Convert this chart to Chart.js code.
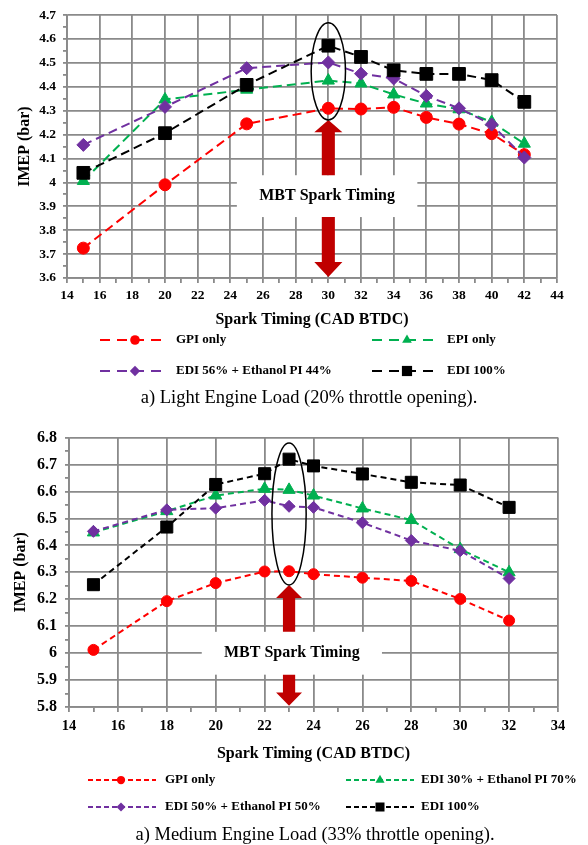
<!DOCTYPE html>
<html>
<head>
<meta charset="utf-8">
<script src="https://cdn.jsdelivr.net/npm/chart.js@4.4.0/dist/chart.umd.min.js"></script>
<style>
  body { margin: 0; background: #fff; }
  .wrap { position: absolute; left: 0; width: 588px; }
</style>
</head>
<body>
<div class="wrap" style="top:0"><canvas id="lightChart" width="588" height="420"></canvas></div>
<div class="wrap" style="top:420px"><canvas id="mediumChart" width="588" height="425"></canvas></div>
<script>
    // Light engine load (20% throttle)
    const timingLight = [15, 20, 25, 30, 32, 34, 36, 38, 40, 42];
    const gpiLight = [3.725, 3.99, 4.245, 4.31, 4.307, 4.314, 4.272, 4.244, 4.204, 4.116];
    const epiLight = [4.006, 4.347, 4.388, 4.426, 4.414, 4.368, 4.33, 4.306, 4.253, 4.162];
    const edi56Light = [4.157, 4.316, 4.478, 4.502, 4.455, 4.435, 4.362, 4.31, 4.242, 4.104];
    const edi100Light = [4.04, 4.206, 4.408, 4.572, 4.525, 4.469, 4.454, 4.454, 4.428, 4.337];
    const labelsLight = ['GPI only', 'EPI only', 'EDI 56% + Ethanol PI 44%', 'EDI 100%'];

    // Medium engine load (33% throttle)
    const timingMedium = [15, 18, 20, 22, 23, 24, 26, 28, 30, 32];
    const gpiMedium = [6.012, 6.193, 6.26, 6.303, 6.304, 6.293, 6.28, 6.268, 6.201, 6.121];
    const edi30Medium = [6.448, 6.527, 6.585, 6.61, 6.606, 6.585, 6.537, 6.494, 6.386, 6.3];
    const edi50Medium = [6.452, 6.532, 6.538, 6.567, 6.545, 6.541, 6.484, 6.418, 6.38, 6.277];
    const edi100Medium = [6.254, 6.468, 6.626, 6.666, 6.72, 6.695, 6.665, 6.634, 6.624, 6.541];
    const labelsMedium = ['GPI only', 'EDI 30% + Ethanol PI 70%', 'EDI 50% + Ethanol PI 50%', 'EDI 100%'];

    const serif = "'Liberation Serif', 'Times New Roman', serif";
    const gridGray = '#8a8a8a';
    const colors = ['#FF0000', '#00B050', '#7030A0', '#000000'];
    const styles = ['circle', 'triangle', 'rectRot', 'rect'];

    function isMajor(v, step) {
        return Math.abs(v / step - Math.round(v / step)) < 1e-6;
    }

    // petit marqueur pour la légende
    function drawMarker(ctx, style, x, y, r, color) {
        ctx.save();
        ctx.fillStyle = color;
        ctx.setLineDash([]);
        ctx.beginPath();
        if (style === 'circle') {
            ctx.arc(x, y, r, 0, Math.PI * 2);
        } else if (style === 'triangle') {
            ctx.moveTo(x, y - r);
            ctx.lineTo(x + r * 0.866, y + r * 0.5);
            ctx.lineTo(x - r * 0.866, y + r * 0.5);
            ctx.closePath();
        } else if (style === 'rectRot') {
            ctx.moveTo(x, y - r);
            ctx.lineTo(x + r, y);
            ctx.lineTo(x, y + r);
            ctx.lineTo(x - r, y);
            ctx.closePath();
        } else {
            const s = r * Math.SQRT1_2;
            ctx.rect(x - s, y - s, 2 * s, 2 * s);
        }
        ctx.fill();
        ctx.restore();
    }

    function makeChart(id, cfg) {
        const datasets = cfg.series.map((values, i) => ({
            label: cfg.labels[i],
            data: values.map((v, j) => ({ x: cfg.timing[j], y: v })),
            borderColor: colors[i],
            backgroundColor: colors[i],
            pointBackgroundColor: colors[i],
            pointBorderColor: colors[i],
            pointStyle: styles[i],
            pointRadius: cfg.radii[i],
            pointBorderWidth: 1,
            borderWidth: 2,
            borderDash: cfg.dash,
            fill: false,
            tension: 0,
            order: 4 - i
        }));

        // flèches, ellipse et étiquette MBT
        const mbtPlugin = {
            id: 'mbt',
            afterDatasetsDraw(chart) {
                const a = cfg.mbt;
                const ctx = chart.ctx;
                const px = v => chart.scales.x.getPixelForValue(v);
                const py = v => chart.scales.y.getPixelForValue(v);
                const cx = px(a.x);
                const hw = px(a.x + a.headHalf) - cx;
                const sw = px(a.x + a.shaftHalf) - cx;
                ctx.save();
                ctx.fillStyle = '#fff';
                ctx.fillRect(px(a.boxLeft), py(a.boxTop), px(a.boxRight) - px(a.boxLeft), py(a.boxBottom) - py(a.boxTop));
                ctx.fillStyle = '#C00000';
                ctx.beginPath();
                ctx.moveTo(cx, py(a.ellipseBottom));
                ctx.lineTo(cx + hw, py(a.headBase));
                ctx.lineTo(cx + sw, py(a.headBase));
                ctx.lineTo(cx + sw, py(a.boxTop));
                ctx.lineTo(cx - sw, py(a.boxTop));
                ctx.lineTo(cx - sw, py(a.headBase));
                ctx.lineTo(cx - hw, py(a.headBase));
                ctx.closePath();
                ctx.fill();
                ctx.beginPath();
                ctx.moveTo(cx - sw, py(a.boxBottom));
                ctx.lineTo(cx + sw, py(a.boxBottom));
                ctx.lineTo(cx + sw, py(a.downHead));
                ctx.lineTo(cx + hw, py(a.downHead));
                ctx.lineTo(cx, py(a.tip));
                ctx.lineTo(cx - hw, py(a.downHead));
                ctx.lineTo(cx - sw, py(a.downHead));
                ctx.closePath();
                ctx.fill();
                ctx.strokeStyle = '#000';
                ctx.lineWidth = 1.5;
                ctx.beginPath();
                const top = py(a.ellipseTop), bot = py(a.ellipseBottom);
                ctx.ellipse(cx, (top + bot) / 2, px(a.x + a.ellipseHalf) - cx, (bot - top) / 2, 0, 0, Math.PI * 2);
                ctx.stroke();
                ctx.fillStyle = '#000';
                ctx.font = 'bold 16px ' + serif;
                ctx.textAlign = 'center';
                ctx.textBaseline = 'middle';
                ctx.fillText('MBT Spark Timing', (px(a.boxLeft) + px(a.boxRight)) / 2, (py(a.boxTop) + py(a.boxBottom)) / 2);
                ctx.restore();
            }
        };

        // légende sur deux colonnes et légende de figure
        const legendPlugin = {
            id: 'gridLegend',
            afterDraw(chart) {
                const ctx = chart.ctx;
                const L = cfg.legend;
                ctx.save();
                chart.data.datasets.forEach((ds, i) => {
                    const col = L.cols[i % 2];
                    const y = L.rows[Math.floor(i / 2)];
                    ctx.strokeStyle = ds.borderColor;
                    ctx.lineWidth = 2;
                    ctx.setLineDash(L.dash);
                    ctx.beginPath();
                    ctx.moveTo(col.x0, y);
                    ctx.lineTo(col.x1, y);
                    ctx.stroke();
                    drawMarker(ctx, ds.pointStyle, col.mx, y, ds.pointRadius * L.markerScale, ds.borderColor);
                    ctx.fillStyle = '#000';
                    ctx.font = 'bold 13px ' + serif;
                    ctx.textAlign = 'left';
                    ctx.textBaseline = 'middle';
                    ctx.fillText(ds.label, col.tx, y);
                });
                ctx.font = '18.5px ' + serif;
                ctx.textAlign = 'center';
                ctx.fillText(cfg.caption, L.captionX, L.captionY);
                ctx.restore();
            }
        };

        return new Chart(document.getElementById(id), {
            type: 'line',
            data: { datasets },
            options: {
                responsive: false,
                animation: false,
                layout: { padding: cfg.padding },
                plugins: { legend: { display: false }, tooltip: { enabled: false } },
                scales: {
                    x: {
                        type: 'linear',
                        min: cfg.xMin,
                        max: cfg.xMax,
                        ticks: {
                            stepSize: 1,
                            autoSkip: false,
                            maxRotation: 0,
                            padding: cfg.xTickPad,
                            color: '#000',
                            font: { family: serif, size: cfg.xFont, weight: 'bold' },
                            callback: v => isMajor(v, 2) ? v : ''
                        },
                        grid: {
                            color: c => isMajor(c.tick.value, 2) ? gridGray : 'rgba(0,0,0,0)',
                            tickColor: gridGray,
                            tickLength: 5,
                            lineWidth: 1.8
                        },
                        border: { color: gridGray, width: 1.8 },
                        title: {
                            display: true,
                            text: 'Spark Timing (CAD BTDC)',
                            color: '#000',
                            font: { family: serif, size: 16, weight: 'bold' },
                            padding: { top: 0, bottom: cfg.xTitlePad }
                        },
                        afterFit: s => { s.height = cfg.xHeight; }
                    },
                    y: {
                        min: cfg.yMin,
                        max: cfg.yMax,
                        ticks: {
                            stepSize: 0.05,
                            autoSkip: false,
                            padding: cfg.yTickPad,
                            color: '#000',
                            font: { family: serif, size: cfg.yFont, weight: 'bold' },
                            callback: v => isMajor(v, 0.1) ? String(Math.round(v * 10) / 10) : ''
                        },
                        grid: {
                            color: c => isMajor(c.tick.value, 0.1) ? gridGray : 'rgba(0,0,0,0)',
                            tickColor: gridGray,
                            tickLength: 4,
                            lineWidth: 1.8
                        },
                        border: { color: gridGray, width: 1.8 },
                        title: {
                            display: true,
                            text: 'IMEP (bar)',
                            color: '#000',
                            font: { family: serif, size: 16, weight: 'bold' },
                            padding: { top: cfg.yTitlePad, bottom: 0 }
                        },
                        afterFit: s => { s.width = cfg.yWidth; }
                    }
                }
            },
            plugins: [mbtPlugin, legendPlugin]
        });
    }

    makeChart('lightChart', {
        timing: timingLight,
        series: [gpiLight, epiLight, edi56Light, edi100Light],
        labels: labelsLight,
        radii: [6, 7, 6.5, 9],
        dash: [9, 5],
        xMin: 14, xMax: 44, yMin: 3.6, yMax: 4.7,
        padding: { top: 15, right: 31, bottom: 90, left: 0 },
        xHeight: 52, xTickPad: 4, xTitlePad: 1, xFont: 13.5,
        yWidth: 67, yTickPad: 7, yTitlePad: 15, yFont: 13.5,
        mbt: { x: 30, ellipseHalf: 1.05, ellipseTop: 4.668, ellipseBottom: 4.261,
               headBase: 4.21, boxTop: 4.03, boxBottom: 3.855, boxLeft: 24.4, boxRight: 35.45,
               downHead: 3.667, tip: 3.604, headHalf: 0.86, shaftHalf: 0.4 },
        legend: {
            rows: [340, 371], dash: [10, 7], markerScale: 0.8,
            cols: [{ x0: 100, x1: 163, mx: 135, tx: 176 }, { x0: 372, x1: 435, mx: 407, tx: 447 }],
            captionX: 309, captionY: 398
        },
        caption: 'a) Light Engine Load (20% throttle opening).'
    });

    makeChart('mediumChart', {
        timing: timingMedium,
        series: [gpiMedium, edi30Medium, edi50Medium, edi100Medium],
        labels: labelsMedium,
        radii: [5.5, 7, 6, 8.5],
        dash: [6, 4],
        xMin: 14, xMax: 34, yMin: 5.8, yMax: 6.8,
        padding: { top: 17, right: 30, bottom: 80, left: 0 },
        xHeight: 58, xTickPad: 6, xTitlePad: 2, xFont: 14.5,
        yWidth: 69, yTickPad: 8, yTitlePad: 11, yFont: 16,
        mbt: { x: 23, ellipseHalf: 0.7, ellipseTop: 6.78, ellipseBottom: 6.253,
               headBase: 6.205, boxTop: 6.079, boxBottom: 5.92, boxLeft: 19.43, boxRight: 26.8,
               downHead: 5.854, tip: 5.805, headHalf: 0.53, shaftHalf: 0.25 },
        legend: {
            rows: [360, 387], dash: [5, 3], markerScale: 0.75,
            cols: [{ x0: 88, x1: 156, mx: 121, tx: 165 }, { x0: 346, x1: 414, mx: 380, tx: 421 }],
            captionX: 315, captionY: 415
        },
        caption: 'a) Medium Engine Load (33% throttle opening).'
    });
</script>
</body>
</html>
